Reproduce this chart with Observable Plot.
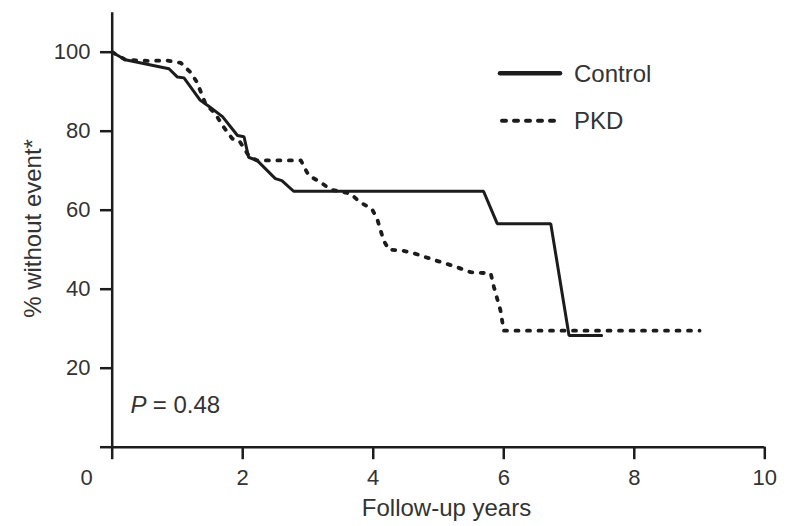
<!DOCTYPE html>
<html>
<head>
<meta charset="utf-8">
<script src="https://cdn.jsdelivr.net/npm/d3@7"></script>
<script src="https://cdn.jsdelivr.net/npm/@observablehq/plot@0.6"></script>
<style>
  html, body { margin: 0; padding: 0; background: #fff; }
  #chart { width: 789px; height: 526px; }
  svg { font-family: "Liberation Sans", Arial, Helvetica, sans-serif; }
</style>
</head>
<body>
<div id="chart"></div>
<script>
// Kaplan–Meier style curves: proportion of patients without event over follow-up
const controlYears    = [0, 0.2, 0.87, 1.0, 1.1, 1.35, 1.48, 1.69, 1.92, 2.02, 2.09, 2.22, 2.5, 2.6, 2.78, 5.69, 5.9, 6.72, 7.0, 7.5];
const controlSurvival = [100, 98.1, 95.8, 93.7, 93.5, 87.8, 86.3, 83.7, 78.9, 78.6, 73.4, 72.6, 68, 67.5, 64.8, 64.8, 56.6, 56.6, 28.3, 28.3];

const pkdYears    = [0, 0.2, 0.54, 0.84, 1.05, 1.2, 1.3, 1.38, 1.43, 1.58, 1.71, 1.84, 1.95, 2.1, 2.22, 2.89, 3.01, 3.19, 3.35, 3.65, 3.8, 3.98, 4.06, 4.16, 4.24, 4.44, 4.62, 4.77, 4.95, 5.13, 5.31, 5.49, 5.8, 5.85, 5.95, 6.0, 9.0];
const pkdSurvival = [100, 98.1, 97.8, 97.9, 97.3, 94.9, 92.4, 89, 86.9, 84.4, 81, 78.1, 77.5, 73.6, 72.6, 72.6, 68.8, 67.1, 65.2, 64.2, 62, 60.3, 57.8, 52.3, 50, 49.8, 49.1, 48.3, 47.3, 46.4, 45.4, 44.3, 44.0, 40.5, 34.6, 29.5, 29.5];

const seriesNames = ["Control", "PKD"];
const xTicks = [0, 2, 4, 6, 8, 10];
const yTicks = [0, 20, 40, 60, 80, 100];
const xLabel = "Follow-up years";
const yLabel = "% without event*";
const pValue = 0.48;

const control = controlYears.map((t, i) => ({t, s: controlSurvival[i]}));
const pkd = pkdYears.map((t, i) => ({t, s: pkdSurvival[i]}));

const ink = "#1c1c1c";
const textInk = "#333";
const tickFont = 22;
const titleFont = 24;

const plot = Plot.plot({
  width: 789,
  height: 526,
  marginLeft: 111.7,
  marginRight: 24.7,
  marginTop: 12.2,
  marginBottom: 79.3,
  style: {fontFamily: "'Liberation Sans', Arial, sans-serif", background: "#fff", overflow: "visible"},
  x: {domain: [0, 10]},
  y: {domain: [0, 110]},
  marks: [
    // axis ticks
    Plot.axisX({ticks: xTicks, tickSize: 12.5, strokeWidth: 2.5, stroke: ink, tickFormat: () => "", label: null}),
    Plot.axisY({ticks: yTicks, tickSize: 11.7, strokeWidth: 2.5, stroke: ink, tickFormat: () => "", label: null}),
    Plot.ruleY([0], {stroke: ink, strokeWidth: 2.5}),
    Plot.ruleX([0], {stroke: ink, strokeWidth: 2.5}),
    // tick labels (the origin label sits apart, left of the corner)
    Plot.text(xTicks.filter(d => d > 0), {x: d => d, y: 0, text: d => String(d), dy: 31, fontSize: tickFont, fill: textInk, textAnchor: "middle", lineAnchor: "middle"}),
    Plot.text([xTicks[0]], {x: d => d, y: 0, text: d => String(d), dx: -25.7, dy: 31, fontSize: tickFont, fill: textInk, textAnchor: "middle", lineAnchor: "middle"}),
    Plot.text(yTicks.filter(d => d > 0), {x: 0, y: d => d, text: d => String(d), dx: -21.7, fontSize: tickFont, fill: textInk, textAnchor: "end", lineAnchor: "middle"}),
    // axis titles
    Plot.text([xLabel], {frameAnchor: "bottom", dx: 8, dy: 61.6, fontSize: titleFont, fill: textInk, textAnchor: "middle", lineAnchor: "middle"}),
    Plot.text([yLabel], {frameAnchor: "left", dx: -78.7, dy: -1.5, rotate: -90, fontSize: titleFont, fill: textInk, textAnchor: "middle", lineAnchor: "middle"}),
    // curves
    Plot.line(control, {x: "t", y: "s", stroke: ink, strokeWidth: 3, strokeLinejoin: "miter"}),
    Plot.line(pkd, {x: "t", y: "s", stroke: ink, strokeWidth: 3.8, strokeDasharray: "3,8.5", strokeLinecap: "round"}),
    // log-rank result
    Plot.text(["P"], {frameAnchor: "bottom-left", dx: 18.3, dy: -41.7, fontSize: titleFont, fontStyle: "italic", fill: textInk, textAnchor: "start", lineAnchor: "middle"}),
    Plot.text([`= ${pValue}`], {frameAnchor: "bottom-left", dx: 40.5, dy: -41.7, fontSize: titleFont, fill: textInk, textAnchor: "start", lineAnchor: "middle"})
  ]
});

document.getElementById("chart").append(plot);

// legend in the upper right of the plot area
const svg = d3.select(plot);
const legend = svg.append("g").attr("class", "legend");
const rows = [
  {name: seriesNames[0], y: 73.3, width: 4.5, dash: null},
  {name: seriesNames[1], y: 120.7, width: 4, dash: "4,8"}
];
rows.forEach(r => {
  legend.append("line")
    .attr("x1", r.dash ? 502 : 500).attr("x2", 560).attr("y1", r.y).attr("y2", r.y)
    .attr("stroke", ink).attr("stroke-width", r.width)
    .attr("stroke-linecap", "round")
    .attr("stroke-dasharray", r.dash);
  legend.append("text")
    .attr("x", 574).attr("y", r.y).attr("dy", "0.35em")
    .attr("text-anchor", "start")
    .attr("font-size", titleFont).attr("fill", textInk)
    .text(r.name);
});
</script>
</body>
</html>
